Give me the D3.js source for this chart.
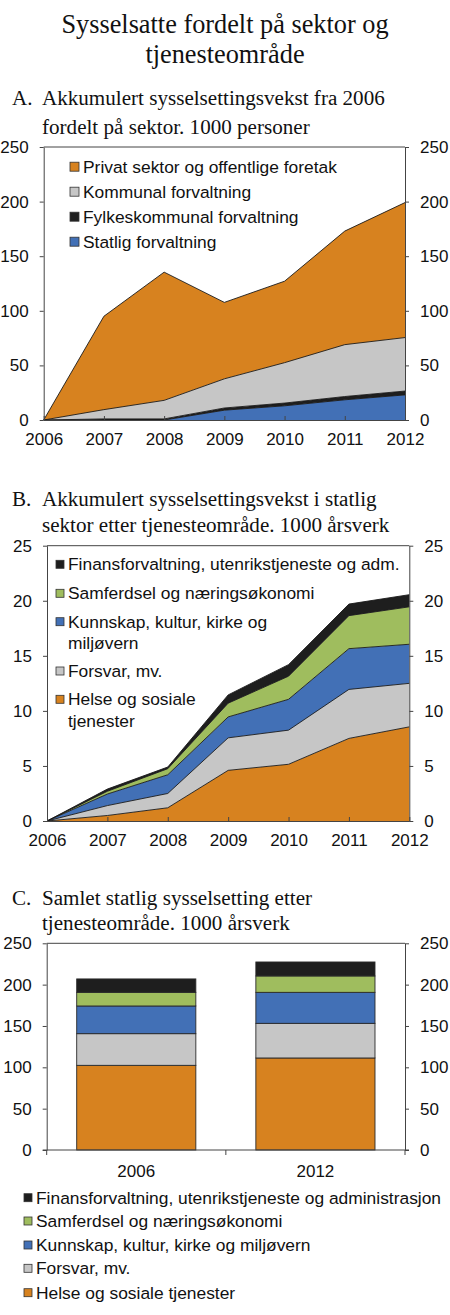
<!DOCTYPE html>
<html>
<head>
<meta charset="utf-8">
<script src="https://cdn.jsdelivr.net/npm/d3@7/dist/d3.min.js"></script>
<style>
  body { margin: 0; background: #fff; }
  .serif { font-family: "Liberation Serif", "Times New Roman", serif; fill: #111; }
  .axis text { font-family: "Liberation Sans", Arial, sans-serif; font-size: 17px; fill: #111; }
  .axis path, .axis line { stroke: #444; }
  .leg { font-family: "Liberation Sans", Arial, sans-serif; font-size: 17.4px; fill: #111; }
</style>
</head>
<body>
<svg width="450" height="1315"></svg>
<script>
// panel A: 1000 personer, akkumulert fra 2006
var yearsA = [2006, 2007, 2008, 2009, 2010, 2011, 2012];
var statligA = [0, 0, 0, 9, 13, 18.5, 23];
var fylkesA = [0, 1, 1, 2, 2.5, 3, 3.5];
var kommunalA = [0, 8.5, 17, 26.7, 37, 47.5, 49];
var privatA = [0, 85.5, 117.4, 70, 74.6, 104, 123.6];

// panel B: 1000 årsverk, statlig sektor
var yearsB = [2006, 2007, 2008, 2009, 2010, 2011, 2012];
var helseB = [0, 0.5, 1.2, 4.6, 5.15, 7.5, 8.55];
var forsvarB = [0, 0.9, 1.3, 2.95, 3.1, 4.45, 3.95];
var kunnskapB = [0, 1.05, 1.7, 1.9, 2.8, 3.7, 3.55];
var samferdselB = [0, 0.25, 0.55, 1.25, 2.1, 3.0, 3.4];
var finansB = [0, 0.2, 0.15, 0.75, 1.05, 1.05, 1.1];

// panel C: samlet statlig, 1000 årsverk
var yearsC = ["2006", "2012"];
var helseC = [102.4, 111.3];
var forsvarC = [38.3, 41.9];
var kunnskapC = [33.5, 37.5];
var samferdselC = [16.5, 19.8];
var finansC = [16.2, 16.9];

var ticksA = [0, 50, 100, 150, 200, 250];
var ticksB = [0, 5, 10, 15, 20, 25];
var ticksC = [0, 50, 100, 150, 200, 250];

var labelsA = ["Statlig forvaltning", "Fylkeskommunal forvaltning", "Kommunal forvaltning", "Privat sektor og offentlige foretak"];
var labelsB = ["Helse og sosiale\ntjenester", "Forsvar, mv.", "Kunnskap, kultur, kirke og\nmiljøvern", "Samferdsel og næringsøkonomi", "Finansforvaltning, utenrikstjeneste og adm."];
var labelsC = ["Helse og sosiale tjenester", "Forsvar, mv.", "Kunnskap, kultur, kirke og miljøvern", "Samferdsel og næringsøkonomi", "Finansforvaltning, utenrikstjeneste og administrasjon"];

var orange = "#d7821f", grey = "#c6c6c6", black = "#1e1e1e", blue = "#4270b6", green = "#9fbd5e";

var svg = d3.select("svg");

// overskrift
svg.append("text").attr("class", "serif").attr("x", 225).attr("y", 33)
   .attr("text-anchor", "middle").style("font-size", "26.3px").text("Sysselsatte fordelt på sektor og");
svg.append("text").attr("class", "serif").attr("x", 225).attr("y", 63)
   .attr("text-anchor", "middle").style("font-size", "26.3px").text("tjenesteområde");

function panelTitle(y1, y2, letter, line1, line2) {
    svg.append("text").attr("class", "serif").attr("x", 12).attr("y", y1)
       .style("font-size", "21.1px").text(letter);
    svg.append("text").attr("class", "serif").attr("x", 42).attr("y", y1)
       .style("font-size", "21.1px").text(line1);
    svg.append("text").attr("class", "serif").attr("x", 42).attr("y", y2)
       .style("font-size", "21.1px").text(line2);
}

function yAxes(y, ticks, left, right) {
    svg.append("g").attr("class", "axis")
       .attr("transform", "translate(" + left + ",0)")
       .call(d3.axisLeft(y).tickValues(ticks).tickSize(4).tickPadding(11).tickSizeOuter(0));
    svg.append("g").attr("class", "axis")
       .attr("transform", "translate(" + right + ",0)")
       .call(d3.axisRight(y).tickValues(ticks).tickSize(4).tickPadding(11).tickSizeOuter(0));
    // top frame
    svg.append("line").attr("x1", left).attr("x2", right)
       .attr("y1", y(ticks[ticks.length - 1])).attr("y2", y(ticks[ticks.length - 1]))
       .attr("stroke", "#444");
}

function legend(x, rows, labels, colors, size) {
    rows.forEach(function(r, i) {
        svg.append("rect").attr("x", x).attr("y", r - size / 2).attr("width", size).attr("height", size)
           .attr("fill", colors[i]).attr("stroke", "#333").attr("stroke-width", 0.8);
        var t = svg.append("text").attr("class", "leg").attr("x", x + size + 4).attr("y", r + 6);
        labels[i].split("\n").forEach(function(s, j) {
            t.append("tspan").attr("x", x + size + 4).attr("dy", j == 0 ? 0 : 21.6).text(s);
        });
    });
}

function areaPanel(top, bottom, left, right, years, series, colors, ticks) {
    var x = d3.scaleLinear().domain(d3.extent(years)).range([left, right]);
    var y = d3.scaleLinear().domain([ticks[0], ticks[ticks.length - 1]]).range([bottom, top]);
    var rows = years.map(function(yr, i) {
        var o = { year: yr };
        series.forEach(function(s, k) { o["s" + k] = s[i]; });
        return o;
    });
    var stack = d3.stack().keys(series.map(function(s, k) { return "s" + k; }));
    var area = d3.area()
        .x(function(d) { return x(d.data.year); })
        .y0(function(d) { return y(d[0]); })
        .y1(function(d) { return y(d[1]); });
    var topLine = d3.line()
        .x(function(d) { return x(d.data.year); })
        .y(function(d) { return y(d[1]); });
    var layers = stack(rows);
    svg.append("g").selectAll("path.a").data(layers).enter().append("path")
       .attr("d", area).attr("fill", function(d, i) { return colors[i]; });
    svg.append("g").selectAll("path.l").data(layers).enter().append("path")
       .attr("d", topLine).attr("fill", "none").attr("stroke", "#1a1a1a").attr("stroke-width", 0.9);

    yAxes(y, ticks, left, right);
    svg.append("g").attr("class", "axis")
       .attr("transform", "translate(0," + bottom + ")")
       .call(d3.axisBottom(x).tickValues(years).tickFormat(d3.format("d"))
             .tickSize(-4).tickPadding(13).tickSizeOuter(0));
}

// A
panelTitle(105, 134, "A.", "Akkumulert sysselsettingsvekst fra 2006", "fordelt på sektor. 1000 personer");
areaPanel(147, 420, 43.7, 405, yearsA, [statligA, fylkesA, kommunalA, privatA],
          [blue, black, grey, orange], ticksA);
legend(70, [241.7, 216.7, 191.7, 166.7], labelsA, [blue, black, grey, orange], 9);

// B
panelTitle(506, 532, "B.", "Akkumulert sysselsettingsvekst i statlig", "sektor etter tjenesteområde. 1000 årsverk");
areaPanel(545.7, 821, 47, 409.3, yearsB, [helseB, forsvarB, kunnskapB, samferdselB, finansB],
          [orange, grey, blue, green, black], ticksB);
legend(56, [699.3, 671, 621.7, 593.3, 564.3], labelsB, [orange, grey, blue, green, black], 8);

// C
panelTitle(905, 930, "C.", "Samlet statlig sysselsetting etter", "tjenesteområde. 1000 årsverk");
(function() {
    var left = 46.7, right = 405, top = 943.3, bottom = 1150;
    var seriesC = [helseC, forsvarC, kunnskapC, samferdselC, finansC];
    var colorsC = [orange, grey, blue, green, black];
    var x = d3.scaleBand().domain(yearsC).range([left, right]).paddingInner(0.335).paddingOuter(0.1675);
    var y = d3.scaleLinear().domain([0, 250]).range([bottom, top]);
    var rows = yearsC.map(function(yr, i) {
        var o = { year: yr };
        seriesC.forEach(function(s, k) { o["s" + k] = s[i]; });
        return o;
    });
    var layers = d3.stack().keys(seriesC.map(function(s, k) { return "s" + k; }))(rows);
    var g = svg.append("g").selectAll("g").data(layers).enter().append("g")
       .attr("fill", function(d, i) { return colorsC[i]; });
    g.selectAll("rect").data(function(d) { return d; }).enter().append("rect")
       .attr("x", function(d) { return x(d.data.year); })
       .attr("width", x.bandwidth())
       .attr("y", function(d) { return y(d[1]); })
       .attr("height", function(d) { return y(d[0]) - y(d[1]); })
       .attr("stroke", "#2a2a2a").attr("stroke-width", 0.9);

    yAxes(y, ticksC, left, right);
    // x axis with ticks between categories
    var xb = svg.append("g").attr("class", "axis").attr("transform", "translate(0," + bottom + ")");
    xb.append("line").attr("x1", left - 4).attr("x2", right + 4).attr("stroke", "#444");
    xb.selectAll("line.t").data([left, (left + right) / 2, right]).enter().append("line")
       .attr("x1", function(d) { return d; }).attr("x2", function(d) { return d; })
       .attr("y1", 0).attr("y2", 5).attr("stroke", "#444");
    xb.selectAll("text").data(yearsC).enter().append("text")
       .attr("x", function(d) { return x(d) + x.bandwidth() / 2; })
       .attr("y", 26.5).attr("text-anchor", "middle").text(function(d) { return d; });
})();
legend(24, [1292.7, 1268.3, 1245, 1221, 1197.7], labelsC, [orange, grey, blue, green, black], 8);
</script>
</body>
</html>
